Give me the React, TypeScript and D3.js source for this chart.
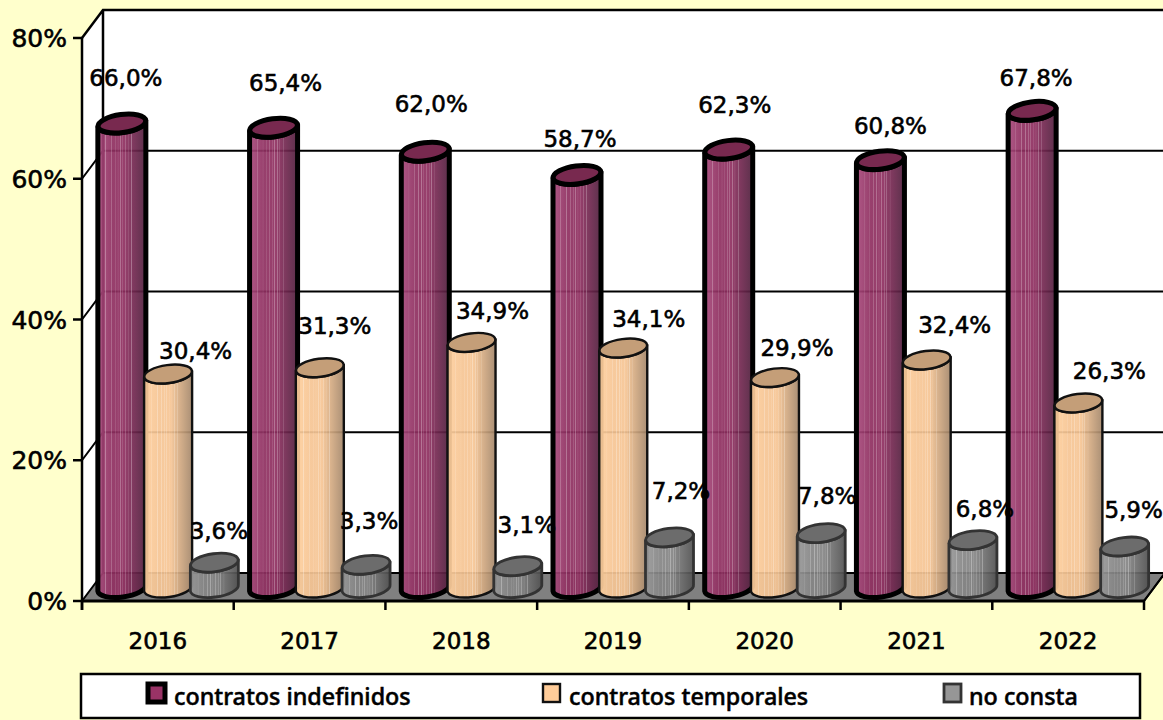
import * as d3 from 'd3'

const YEARS = ['2016', '2017', '2018', '2019', '2020', '2021', '2022']
const INDEFINIDOS = [66.0, 65.4, 62.0, 58.7, 62.3, 60.8, 67.8]
const TEMPORALES = [30.4, 31.3, 34.9, 34.1, 29.9, 32.4, 26.3]
const NO_CONSTA = [3.6, 3.3, 3.1, 7.2, 7.8, 6.8, 5.9]
const Y_TICKS = [0, 20, 40, 60, 80]

const SERIES = [
  { key: 'indefinidos', label: 'contratos indefinidos', values: INDEFINIDOS },
  { key: 'temporales', label: 'contratos temporales', values: TEMPORALES },
  { key: 'noconsta', label: 'no consta', values: NO_CONSTA },
]

// look of each series, same order as SERIES
const LOOK: Record<string, any> = {
  indefinidos: { edge: '#a84a7c', light: '#8f2f60', dark: '#4e1f3c', top: '#78294f', swatch: '#993366', stroke: '#000', sw: 5, swatchX: 146, textX: 174 },
  temporales: { edge: '#ffd09e', light: '#f6c594', dark: '#a3866a', top: '#c49e78', swatch: '#ffcc99', stroke: '#111', sw: 2.4, swatchX: 541, textX: 569 },
  noconsta: { edge: '#989898', light: '#858585', dark: '#505050', top: '#6c6c6c', swatch: '#969696', stroke: '#333', sw: 2.8, swatchX: 942, textX: 969 },
}

// hand placed value labels, offset from the top of each cylinder
const LABEL_NUDGE: Record<string, [number, number][]> = {
  indefinidos: [[4, -46], [12, -45], [6, -48], [3, -36], [6, -45], [10, -34], [4, -33]],
  temporales: [[27.5, -23], [15, -42], [21, -32], [25.5, -29], [22, -30], [28, -35], [31, -32]],
  noconsta: [[4.5, -32], [3, -44], [9, -41], [11.5, -47], [6, -37], [12, -31], [9, -37]],
}

const STRIPES = [0.16, 0.28, 0.36, 0.42, 0.47, 0.52, 0.58, 0.63, 0.7]

const W = 1163
const H = 720
const LEFT = 82
const RIGHT = 1144
const DX = 21
const DY = -28
const R = 24
const RY = 9
const TILT = 7.5
const BASE_LIFT = 13

const x = d3.scaleBand<string>().domain(YEARS).range([LEFT, RIGHT])
const y = d3.scaleLinear().domain([0, 80]).range([601, 38])
const seriesX = d3.scalePoint<string>().domain(SERIES.map(s => s.key)).range([-36, 56.5])
const xTicks = d3.range(YEARS.length + 1).map(i => LEFT + i * x.step())

function sidePath(cx: number, top: number, base: number) {
  const sinT = Math.sin((TILT * Math.PI) / 180) * R
  return `M${cx - R},${top + sinT} L${cx - R},${base + sinT} A${R},${RY} ${-TILT} 0 0 ${cx + R},${base - sinT} L${cx + R},${top - sinT} A${R},${RY} ${-TILT} 0 1 ${cx - R},${top + sinT} Z`
}

export default function App() {
  const base = y(0) - BASE_LIFT
  const txt = { fontFamily: '"DejaVu Sans"', fill: '#000', stroke: '#000', strokeWidth: 0.6 }
  return (
    <div style={{ position: 'absolute', left: 0, top: 0 }}>
      <svg width={W} height={H} style={{ display: 'block', background: '#ffffcc' }}>
        <defs>
          {SERIES.map(s => (
            <linearGradient key={s.key} id={`g-${s.key}`} x1="0" x2="1" y1="0" y2="0">
              <stop offset="0" stopColor={LOOK[s.key].edge} />
              <stop offset="0.3" stopColor={LOOK[s.key].light} />
              <stop offset="0.55" stopColor={LOOK[s.key].light} />
              <stop offset="1" stopColor={LOOK[s.key].dark} />
            </linearGradient>
          ))}
          <linearGradient id="stripes" x1="0" x2="1" y1="0" y2="0">
            {STRIPES.flatMap(p => [
              <stop key={`${p}a`} offset={p - 0.012} stopColor="#fff" stopOpacity={0} />,
              <stop key={`${p}b`} offset={p} stopColor="#fff" stopOpacity={0.3} />,
              <stop key={`${p}c`} offset={p + 0.012} stopColor="#fff" stopOpacity={0} />,
            ])}
          </linearGradient>
        </defs>

        {/* walls */}
        <path
          d={`M${LEFT},${y(80)} L${LEFT + DX},${y(80) + DY} L${W + 5},${y(80) + DY} L${W + 5},${y(0) + DY} L${LEFT + DX},${y(0) + DY} L${LEFT},${y(0)} Z`}
          fill="#fff"
        />
        {Y_TICKS.slice(1, -1).map(t => (
          <path
            key={t}
            d={`M${LEFT},${y(t)} L${LEFT + DX},${y(t) + DY} L${W + 5},${y(t) + DY}`}
            fill="none"
            stroke="#000"
            strokeWidth={2}
          />
        ))}
        <path
          d={`M${LEFT},${y(80)} L${LEFT + DX},${y(80) + DY} L${W + 5},${y(80) + DY} M${LEFT + DX},${y(80) + DY} L${LEFT + DX},${y(0) + DY}`}
          fill="none"
          stroke="#000"
          strokeWidth={2.5}
        />
        {/* floor */}
        <path
          d={`M${LEFT},${y(0)} L${LEFT + DX},${y(0) + DY} L${RIGHT + DX},${y(0) + DY} L${RIGHT},${y(0)} Z`}
          fill="#808080"
          stroke="#000"
          strokeWidth={2}
        />

        {/* cylinders */}
        {YEARS.map((year, i) =>
          SERIES.map(s => {
            const look = LOOK[s.key]
            const cx = x(year)! + x.bandwidth() / 2 + seriesX(s.key)!
            const top = base - (y(0) - y(s.values[i]))
            const d = sidePath(cx, top, base)
            return (
              <g key={s.key + year}>
                <path d={d} fill={`url(#g-${s.key})`} fillOpacity={0.92} />
                <path d={d} fill="url(#stripes)" />
                <path d={d} fill="none" stroke={look.stroke} strokeWidth={look.sw} strokeLinejoin="round" />
                <ellipse
                  cx={cx}
                  cy={top}
                  rx={R}
                  ry={RY}
                  transform={`rotate(${-TILT} ${cx} ${top})`}
                  fill={look.top}
                  stroke={look.stroke}
                  strokeWidth={look.sw}
                />
              </g>
            )
          }),
        )}

        {/* axes */}
        <line x1={LEFT} x2={LEFT} y1={y(80)} y2={y(0) + 9} stroke="#000" strokeWidth={2.5} />
        <line x1={LEFT} x2={RIGHT} y1={y(0)} y2={y(0)} stroke="#000" strokeWidth={3} />
        <line x1={RIGHT} x2={RIGHT + DX} y1={y(0)} y2={y(0) + DY} stroke="#000" strokeWidth={2} />
        {Y_TICKS.map(t => (
          <g key={t}>
            <line x1={LEFT - 9} x2={LEFT} y1={y(t)} y2={y(t)} stroke="#000" strokeWidth={2.5} />
            <text x={67} y={y(t)} dy="0.36em" textAnchor="end" fontSize={25} {...txt}>
              {t}%
            </text>
          </g>
        ))}
        {xTicks.map(t => (
          <line key={t} x1={t} x2={t} y1={y(0)} y2={y(0) + 9} stroke="#000" strokeWidth={2.5} />
        ))}
        {YEARS.map(year => (
          <text key={year} x={x(year)! + x.bandwidth() / 2} y={649} textAnchor="middle" fontSize={23} {...txt}>
            {year}
          </text>
        ))}

        {/* value labels */}
        {SERIES.map(s =>
          s.values.map((v, i) => {
            const cx = x(YEARS[i])! + x.bandwidth() / 2 + seriesX(s.key)!
            const top = base - (y(0) - y(v))
            const [nx, ny] = LABEL_NUDGE[s.key][i]
            return (
              <text key={s.key + i} x={cx + nx} y={top + ny} dy="0.36em" textAnchor="middle" fontSize={23} {...txt}>
                {v.toFixed(1).replace('.', ',')}%
              </text>
            )
          }),
        )}

        {/* legend */}
        <rect x={81} y={674} width={1059} height={44} fill="#fff" stroke="#000" strokeWidth={2.5} />
        {SERIES.map(s => {
          const look = LOOK[s.key]
          return (
            <g key={s.key}>
              <rect x={look.swatchX + 2} y={684} width={17} height={18} fill={look.swatch} stroke={look.stroke} strokeWidth={look.sw} />
              <text x={look.textX} y={705} fontFamily='"Noto Sans"' fontWeight={500} fontSize={23.3} stroke="#000" strokeWidth={0.5} fill="#000">
                {s.label}
              </text>
            </g>
          )
        })}
      </svg>
    </div>
  )
}
